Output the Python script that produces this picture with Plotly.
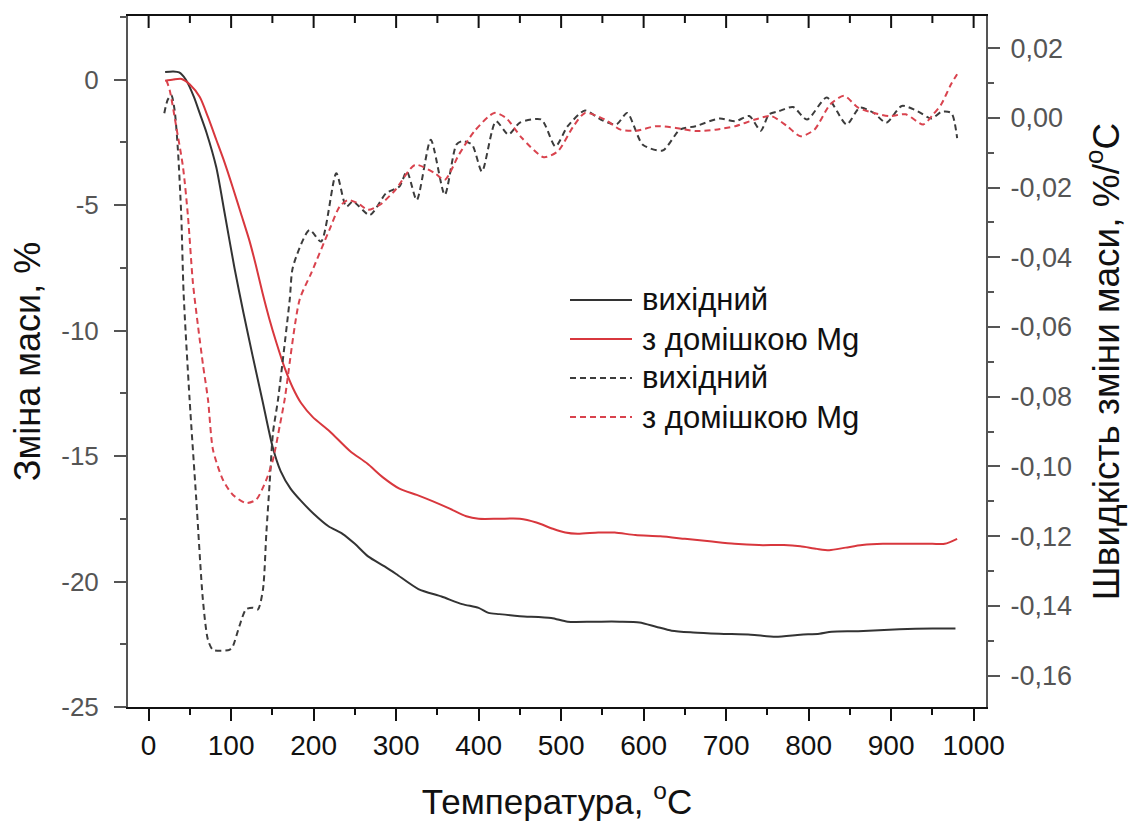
import plotly.graph_objects as go

# ---- thermogravimetry (TG): mass change, % ----
tg_temp_base = [20, 30, 37, 45, 55, 62, 70, 82, 92, 104, 115, 126, 138, 150, 160, 172, 185,
                200, 218, 235, 250, 266, 286, 300, 327, 355, 380, 400, 412, 425, 450, 488,
                508, 540, 571, 595, 615, 634, 660, 692, 730, 760, 790, 813, 828, 860, 910,
                950, 978]
tg_mass_base = [0.3, 0.32, 0.28, 0.0, -0.7, -1.35, -2.1, -3.5, -5.3, -7.5, -9.3, -11.0, -12.8,
                -14.6, -15.6, -16.3, -16.8, -17.3, -17.8, -18.1, -18.5, -19.0, -19.4, -19.7,
                -20.3, -20.6, -20.9, -21.05, -21.25, -21.3, -21.38, -21.45, -21.6, -21.6,
                -21.6, -21.63, -21.8, -21.96, -22.03, -22.08, -22.12, -22.2, -22.12, -22.08,
                -22.0, -21.98, -21.9, -21.87, -21.87]

tg_temp_mg = [20, 30, 40, 50, 62, 72, 82, 92, 102, 112, 122, 130, 138, 146, 155, 165, 175,
              185, 199, 219, 244, 265, 284, 304, 325, 344, 365, 385, 400, 425, 450, 470, 490,
              505, 520, 545, 565, 590, 620, 650, 680, 710, 740, 770, 790, 810, 825, 845, 865,
              890, 920, 950, 965, 980]
tg_mass_mg = [-0.05, 0.0, 0.02, -0.2, -0.7, -1.5, -2.4, -3.3, -4.3, -5.35, -6.4, -7.4, -8.5,
              -9.5, -10.5, -11.5, -12.3, -12.9, -13.45, -14.0, -14.8, -15.3, -15.85, -16.3,
              -16.55, -16.8, -17.1, -17.4, -17.5, -17.5, -17.5, -17.65, -17.9, -18.05, -18.1,
              -18.05, -18.05, -18.15, -18.2, -18.3, -18.4, -18.5, -18.55, -18.55, -18.6, -18.7,
              -18.75, -18.65, -18.55, -18.5, -18.5, -18.5, -18.5, -18.3]

# ---- derivative (DTG): rate of mass change, %/°C ----
dtg_temp_base = [19, 23, 27.5, 31.5, 35.5, 39.6, 42.4, 49.7, 57.8, 65.8, 71.9, 78, 98, 102,
                 110, 118, 126.5, 132.5, 138.6, 142.7, 146.7, 150.7, 156.8, 171, 175, 195, 209,
                 227.5, 239.6, 247.6, 268, 288, 304, 313, 325, 342, 359, 373, 380, 392, 404,
                 421, 436, 450, 476, 493, 508, 529, 548, 567, 580, 599, 623, 644, 663, 692, 711,
                 728, 742, 752, 764, 781, 798, 822, 846, 862, 879, 894, 913, 932, 949, 961, 973,
                 980]
dtg_rate_base = [0.0013, 0.0051, 0.0065, 0.0022, -0.0092, -0.0283, -0.0503, -0.0809, -0.1096,
                 -0.1383, -0.1497, -0.1526, -0.1526, -0.1516, -0.1458, -0.1410, -0.1405,
                 -0.1410, -0.1353, -0.1191, -0.1048, -0.0904, -0.0809, -0.0522, -0.0427,
                 -0.0322, -0.0355, -0.0159, -0.0255, -0.0240, -0.0279, -0.0216, -0.0197,
                 -0.0154, -0.0236, -0.0063, -0.0221, -0.0077, -0.0067, -0.0077, -0.0154,
                 -0.0010, -0.0048, -0.0014, -0.0005, -0.0082, -0.0024, 0.0021, -0.0005,
                 -0.0019, 0.0014, -0.0077, -0.0094, -0.0034, -0.0024, -0.0002, -0.0010,
                 0.0005, -0.0037, 0.0010, 0.0019, 0.0031, -0.0005, 0.0058, -0.0019, 0.0029,
                 0.0014, -0.0014, 0.0034, 0.0019, -0.0002, 0.0017, 0.0014, -0.0058]

dtg_temp_mg = [21.5, 25.5, 33.5, 41.6, 47.7, 53.7, 60, 66, 72, 78, 90, 102, 118, 130.5, 142.7,
               150.7, 158.8, 164.8, 183, 197, 219, 231.5, 241.6, 253.7, 265.8, 280, 299, 323,
               347, 359, 376, 395, 419, 433, 452.5, 479, 496, 515, 529, 553, 572, 591.5, 615,
               639, 663, 687, 711, 735, 754.5, 774, 790, 807, 826, 843, 860, 879, 898, 917.5,
               939, 951, 960.6, 972.6, 980]
dtg_rate_mg = [0.0108, 0.0080, -0.0026, -0.0140, -0.0283, -0.0474, -0.0600, -0.0710, -0.0809,
               -0.0952, -0.1038, -0.1081, -0.1105, -0.1095, -0.1038, -0.0981, -0.0885,
               -0.0809, -0.0522, -0.0446, -0.0322, -0.0255, -0.0236, -0.0245, -0.0264,
               -0.0250, -0.0207, -0.0135, -0.0159, -0.0178, -0.0106, -0.0038, 0.0014, 0.0,
               -0.0058, -0.0113, -0.0096, -0.0024, 0.0014, -0.0005, -0.0034, -0.0037,
               -0.0024, -0.0029, -0.0038, -0.0034, -0.0024, -0.0005, 0.0005, -0.0024,
               -0.0053, -0.0034, 0.0038, 0.0063, 0.0029, 0.0014, 0.0005, 0.0010, -0.0019,
               0.0010, 0.0038, 0.0096, 0.0125]

series_names = ["вихідний", "з домішкою Mg", "вихідний", "з домішкою Mg"]

x_ticks = list(range(0, 1001, 100))
x_minor_ticks = list(range(50, 1000, 100))
left_ticks = [0, -5, -10, -15, -20, -25]
left_ticktext = ["0", "-5", "-10", "-15", "-20", "-25"]
right_ticks = [0.02, 0.0, -0.02, -0.04, -0.06, -0.08, -0.10, -0.12, -0.14, -0.16]
right_ticktext = ["0,02", "0,00", "-0,02", "-0,04", "-0,06", "-0,08", "-0,10", "-0,12",
                  "-0,14", "-0,16"]

FONT = "Arial, 'Liberation Sans', sans-serif"
BLACK = "#333333"
RED = "#d8373d"
BLACK_D = "#3c3c3c"
RED_D = "#d9434e"
DASH = "6px,4px"

styles = [
    dict(color=BLACK, width=2, dash="solid"),
    dict(color=RED, width=2, dash="solid"),
    dict(color=BLACK_D, width=2, dash=DASH),
    dict(color=RED_D, width=2, dash=DASH),
]

fig = go.Figure()
# TG curves use the left axis, DTG curves the right axis
data = [(tg_temp_base, tg_mass_base, "y"), (tg_temp_mg, tg_mass_mg, "y"),
        (dtg_temp_base, dtg_rate_base, "y2"), (dtg_temp_mg, dtg_rate_mg, "y2")]
for (xs, ys, yax), name, st in zip(data, series_names, styles):
    fig.add_trace(go.Scatter(
        x=xs, y=ys, yaxis=yax, mode="lines", name=name, showlegend=False,
        line=dict(color=st["color"], width=st["width"], dash=st["dash"],
                  shape="spline", smoothing=0.7),
    ))

# plot-area geometry in pixels
W, H = 1128, 821
ML, MR, MT, MB = 128, 142, 16, 114
PW, PH = W - ML - MR, H - MT - MB


def px_x(px):
    return (px - ML) / PW


def px_y(py):
    return 1 - (py - MT) / PH


shapes = []
annotations = []

# inward tick marks along the top edge of the frame, placed on the x scale
for t in x_ticks + x_minor_ticks:
    length = 12 if t in x_ticks else 7
    shapes.append(dict(type="line", xref="x", yref="paper", x0=t, x1=t,
                       y0=1, y1=1 - length / PH, layer="above",
                       line=dict(color="#111111", width=2)))

# legend
legend_rows = [300, 339, 378, 417]
for row, name, st in zip(legend_rows, series_names, styles):
    shapes.append(dict(type="line", xref="paper", yref="paper",
                       x0=px_x(570), x1=px_x(632), y0=px_y(row), y1=px_y(row),
                       line=dict(color=st["color"], width=2, dash=st["dash"])))
    annotations.append(dict(xref="paper", yref="paper", x=px_x(640), y=px_y(row),
                            xanchor="left", yanchor="middle", showarrow=False, text=name,
                            font=dict(family=FONT, size=31, color="#111111")))

x_range = [-25, 1015]
tick_common = dict(ticklen=12, tickwidth=2, showgrid=False, zeroline=False,
                   showline=True, linewidth=2, automargin=False)

fig.update_layout(
    width=W, height=H,
    margin=dict(l=ML, r=MR, t=MT, b=MB, pad=0),
    paper_bgcolor="white", plot_bgcolor="white",
    font=dict(family=FONT, color="#111111"),
    showlegend=False,
    shapes=shapes, annotations=annotations,
    xaxis=dict(
        range=x_range, tickmode="array", tickvals=x_ticks, ticks="outside", mirror=True,
        tickcolor="#111111", linecolor="#111111",
        minor=dict(dtick=50, tick0=0, ticks="outside", ticklen=6, tickwidth=2,
                   tickcolor="#111111"),
        tickfont=dict(size=28, color="#111111"),
        title=dict(text="Температура, <sup>o</sup>C", font=dict(size=35, color="#111111"),
                   standoff=30),
        **tick_common,
    ),
    yaxis=dict(
        range=[-25, 2.53], tickmode="array", tickvals=left_ticks, ticktext=left_ticktext,
        ticks="outside", tickcolor="#555555", linecolor="#555555",
        minor=dict(dtick=2.5, tick0=0, ticks="outside", ticklen=6, tickwidth=2,
                   tickcolor="#555555"),
        tickfont=dict(size=26, color="#555555"), ticklabelstandoff=10,
        title=dict(text="Зміна маси, %", font=dict(size=36, color="#111111"), standoff=10),
        **tick_common,
    ),
    yaxis2=dict(
        range=[-0.169, 0.0292], overlaying="y", side="right", anchor="x",
        tickmode="array", tickvals=right_ticks, ticktext=right_ticktext,
        ticks="outside", tickcolor="#555555", linecolor="#555555",
        minor=dict(dtick=0.01, tick0=0, ticks="outside", ticklen=6, tickwidth=2,
                   tickcolor="#555555"),
        tickfont=dict(size=27, color="#555555"), ticklabelstandoff=5,
        title=dict(text="Швидкість зміни маси, %/<sup>o</sup>C",
                   font=dict(size=37, color="#111111"), standoff=22),
        **tick_common,
    ),
)

fig.write_html("out.html")
